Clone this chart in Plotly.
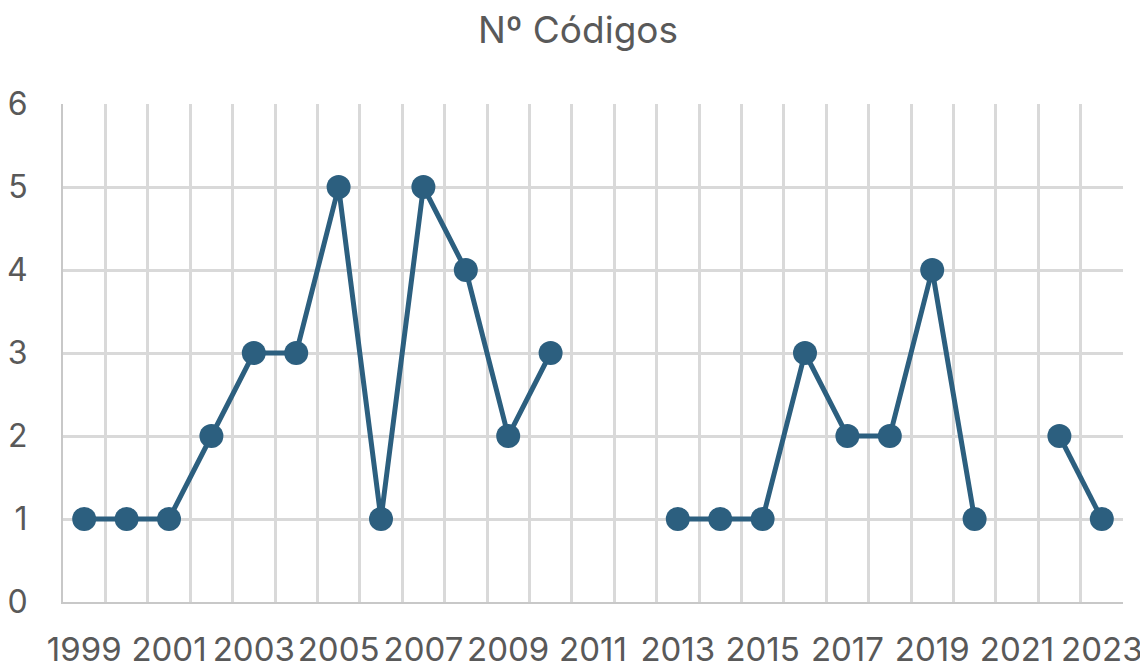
import plotly.graph_objects as go

years = list(range(1999, 2024))
codigos = [1, 1, 1, 2, 3, 3, 5, 1, 5, 4, 2, 3, None, None, 1, 1, 1, 3, 2, 2, 4, 1, None, 2, 1]
tick_years = list(range(1999, 2024, 2))
y_ticks = [0, 1, 2, 3, 4, 5, 6]

LINE = "#2C5F7F"
GRID = "#D9D9D9"
TEXT = "#595959"
FONT = "Inter"

fig = go.Figure()
fig.add_trace(go.Scatter(
    x=years, y=codigos, mode="lines+markers", connectgaps=False,
    line=dict(color=LINE, width=5),
    marker=dict(color=LINE, size=24),
    showlegend=False, hoverinfo="x+y",
))

# page body has an 8px margin, so figure is sized/offset accordingly
fig.update_layout(
    width=1140, height=660,
    margin=dict(l=55, r=25, t=96, b=66, autoexpand=False),
    paper_bgcolor="white", plot_bgcolor="white",
    title=dict(text="Nº Códigos", x=0.5, xanchor="center", y=0.966, yanchor="middle",
               font=dict(family=FONT, size=37, color=TEXT)),
    font=dict(family=FONT, color=TEXT),
)
fig.update_xaxes(
    range=[years[0] - 0.5, years[-1] + 0.5], automargin=False,
    tickmode="array", tickvals=tick_years, ticktext=[str(y) for y in tick_years],
    tickangle=0,
    showgrid=False, zeroline=False,
    showline=True, linecolor="#C8C8C8", linewidth=2, mirror=False,
    ticks="", ticklabelstandoff=17,
    tickfont=dict(family=FONT, size=33, color=TEXT),
    minor=dict(tickmode="array", tickvals=[y - 0.5 for y in years] + [years[-1] + 0.5],
               showgrid=True, gridcolor=GRID, gridwidth=2.5, ticks=""),
)
fig.update_yaxes(
    range=[0, 6], tickmode="array", tickvals=y_ticks, automargin=False,
    showgrid=True, gridcolor=GRID, gridwidth=2.5, zeroline=False,
    showline=True, linecolor="#C8C8C8", linewidth=2,
    ticks="", ticklabelstandoff=27,
    tickfont=dict(family=FONT, size=32, color=TEXT),
)
fig.write_html("out.html")
